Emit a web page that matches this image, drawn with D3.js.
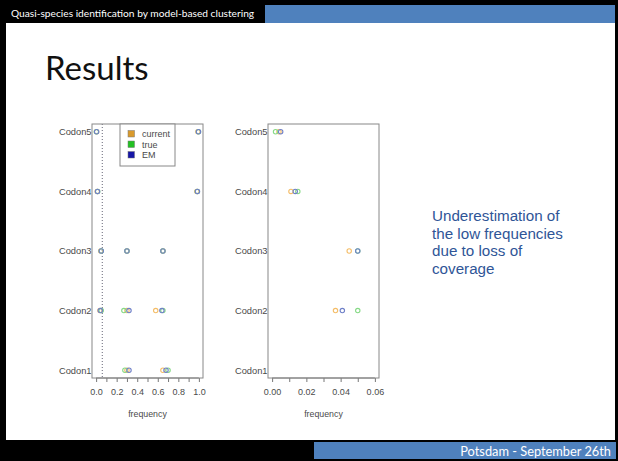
<!DOCTYPE html>
<html>
<head>
<meta charset="utf-8">
<script src="https://cdn.jsdelivr.net/npm/d3@7"></script>
<style>
  html, body { margin: 0; padding: 0; background: #000; }
  svg { display: block; }
</style>
</head>
<body>
<svg id="slide" width="618" height="461"></svg>
<script>
// Codon rows (bottom to top) and the estimated haplotype frequencies per method
const codons = ["Codon1", "Codon2", "Codon3", "Codon4", "Codon5"];
const currentFreq = [[0.30, 0.65], [0.037, 0.30, 0.58], [0.045, 0.30, 0.65], [0.011, 0.98], [0.004, 0.99]];
const trueFreq    = [[0.28, 0.70], [0.05, 0.27, 0.65], [0.05, 0.30, 0.65], [0.015, 0.985], [0.002, 0.996]];
const emFreq      = [[0.32, 0.68], [0.041, 0.32, 0.64], [0.05, 0.30, 0.65], [0.0135, 0.986], [0.005, 0.996]];
const seriesNames = ["current", "true", "EM"];
const leftTicks = [0, 0.1, 0.2, 0.3, 0.4, 0.5, 0.6, 0.7, 0.8, 0.9, 1.0];
const rightTicks = [0, 0.01, 0.02, 0.03, 0.04, 0.05, 0.06];
const coverageThreshold = 0.06;

const pointColor = { current: "#f4bd68", true: "#86da86", EM: "#6f80c8" };
const legendColor = { current: "#d99a2c", true: "#22c022", EM: "#1616a6" };
const seriesData = { current: currentFreq, true: trueFreq, EM: emFreq };

const svg = d3.select("#slide");
const slideFont = "Lato, 'Open Sans', sans-serif";
const font = "'Liberation Sans', Arial, sans-serif";

// ---- slide frame ----
svg.append("rect").attr("x", 0).attr("y", 0).attr("width", 618).attr("height", 461).attr("fill", "#000");
svg.append("rect").attr("x", 6).attr("y", 23).attr("width", 609).attr("height", 417).attr("fill", "#fff");
svg.append("rect").attr("x", 265).attr("y", 5).attr("width", 350).attr("height", 18).attr("fill", "#4f81bd");
svg.append("rect").attr("x", 314).attr("y", 442).attr("width", 302).attr("height", 17).attr("fill", "#4f81bd");

svg.append("text").attr("x", 11).attr("y", 17)
  .attr("font-family", slideFont).attr("font-size", 10.2)
  .attr("fill", "#fff").text("Quasi-species identification by model-based clustering");
svg.append("text").attr("x", 611).attr("y", 455.5).attr("text-anchor", "end")
  .attr("font-family", slideFont).attr("font-size", 12.8)
  .attr("fill", "#fff").text("Potsdam - September 26th");

svg.append("text").attr("x", 45).attr("y", 80)
  .attr("font-family", slideFont).attr("font-size", 33)
  .attr("fill", "#111").text("Results");

// ---- annotation ----
const note = ["Underestimation of", "the low frequencies", "due to loss of", "coverage"];
svg.append("g").selectAll("text").data(note).join("text")
  .attr("x", 432).attr("y", (d, i) => 221 + i * 17.7)
  .attr("font-family", font).attr("font-size", 15.2)
  .attr("fill", "#2f5597").text(d => d);

// ---- dot charts ----
const y = d3.scaleLinear().domain([0.87, 5.13]).range([378, 124]);

function dotPanel(opts) {
  const { x0, x1, domain, ticks, labelEvery, fmt } = opts;
  const x = d3.scaleLinear().domain(domain).range([x0, x1]);
  const g = svg.append("g");
  const clipId = "clip" + x0;
  g.append("clipPath").attr("id", clipId).append("rect")
    .attr("x", x0).attr("y", 124).attr("width", x1 - x0).attr("height", 254);

  // codon labels
  g.selectAll("text.codon").data(codons).join("text").attr("class", "codon")
    .attr("x", x0 - 0.5).attr("y", (d, i) => y(i + 1) + 3.3)
    .attr("text-anchor", "end").attr("font-family", font).attr("font-size", 9.3)
    .attr("fill", "#4a4a4a").text(d => d);

  // x axis
  const axis = d3.axisBottom(x).tickValues(ticks).tickSize(4)
    .tickFormat((d, i) => (i % labelEvery === 0 ? fmt(d) : ""));
  const ag = g.append("g").attr("transform", "translate(0,378)").call(axis);
  ag.select(".domain").attr("stroke", "#777").attr("d", `M${x(ticks[0])},0H${x(ticks[ticks.length - 1])}`);
  ag.selectAll(".tick line").attr("stroke", "#777");
  ag.selectAll(".tick text").attr("font-family", font).attr("font-size", 9)
    .attr("fill", "#4a4a4a").attr("dy", "0.71em").attr("y", 11);
  g.append("text").attr("x", (x0 + x1) / 2).attr("y", 417).attr("text-anchor", "middle")
    .attr("font-family", font).attr("font-size", 8.8).attr("fill", "#4a4a4a").text("frequency");

  if (opts.threshold !== undefined) {
    g.append("line").attr("x1", x(opts.threshold)).attr("x2", x(opts.threshold))
      .attr("y1", 124).attr("y2", 378).attr("stroke", "#667")
      .attr("stroke-width", 1).attr("stroke-dasharray", "1,2");
  }

  // points: current, then true, then EM on top
  const pts = g.append("g").attr("clip-path", `url(#${clipId})`);
  seriesNames.forEach(name => {
    const flat = [];
    seriesData[name].forEach((vals, ci) => vals.forEach(v => flat.push({ c: ci + 1, v })));
    pts.selectAll(null).data(flat).join("circle")
      .attr("cx", d => x(d.v)).attr("cy", d => y(d.c)).attr("r", 2.2)
      .attr("fill", "none").attr("stroke", pointColor[name]).attr("stroke-width", 1.1);
  });

  // frame
  g.append("rect").attr("x", x0).attr("y", 124).attr("width", x1 - x0).attr("height", 254)
    .attr("fill", "none").attr("stroke", "#888").attr("stroke-width", 1);
  return g;
}

const left = dotPanel({ x0: 92, x1: 203, domain: [-0.04, 1.04], ticks: leftTicks, labelEvery: 2, fmt: d3.format(".1f"), threshold: coverageThreshold });
dotPanel({ x0: 268, x1: 379, domain: [-0.0024, 0.0624], ticks: rightTicks, labelEvery: 2, fmt: d3.format(".2f") });

// legend in the left panel
const lg = left.append("g");
lg.append("rect").attr("x", 120).attr("y", 124).attr("width", 55).attr("height", 42)
  .attr("fill", "#fff").attr("stroke", "#888");
seriesNames.forEach((name, i) => {
  lg.append("rect").attr("x", 128).attr("y", 130.5 + i * 10.5).attr("width", 6.5).attr("height", 6.5)
    .attr("fill", legendColor[name]).attr("stroke", "#777").attr("stroke-width", 0.5);
  lg.append("text").attr("x", 142).attr("y", 137 + i * 10.5)
    .attr("font-family", font).attr("font-size", 9).attr("fill", "#4a4a4a").text(name);
});
</script>
</body>
</html>
